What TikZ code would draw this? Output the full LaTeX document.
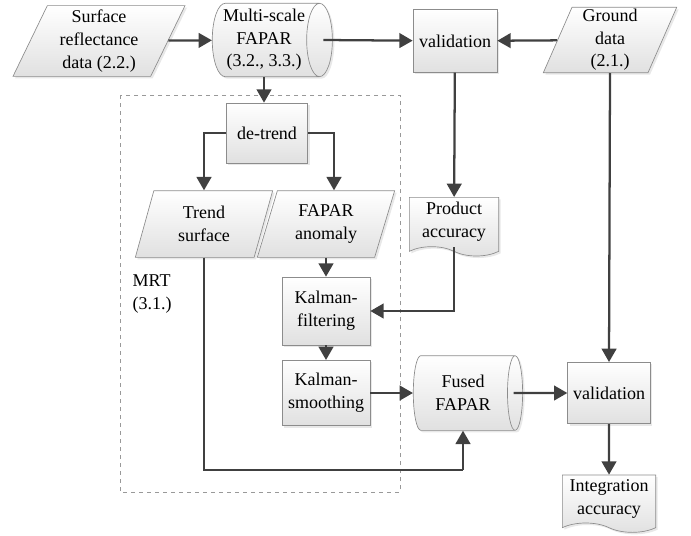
\documentclass[tikz,border=0pt]{standalone}
\usepackage{fontspec}
\setmainfont{Liberation Serif}
\usetikzlibrary{arrows.meta,shapes.geometric,shapes.symbols,shadows}

\tikzset{
  base/.style={draw=black!45, line width=0.5pt, top color=white, bottom color=black!12,
    align=center, inner sep=1pt, font=\rmfamily\fontsize{13.5}{17}\selectfont,
    drop shadow={opacity=0.18, shadow xshift=1.5pt, shadow yshift=-1.5pt}},
  procbox/.style={base, rectangle, minimum width=#1, minimum height=47pt},
  databox/.style={base, trapezium, trapezium stretches body,
    trapezium left angle=#1, trapezium right angle=180-#1},
  storebox/.style={base, cylinder, shape aspect=0.4, minimum height=88pt},
  docbox/.style={base, tape, tape bend top=none, tape bend bottom=out and in,
    tape bend height=7pt},
  flow/.style={draw=black!75, line width=1.7pt, -{Triangle[length=10pt,width=11pt]}},
  link/.style={draw=black!75, line width=1.7pt},
}

\begin{document}
\begin{tikzpicture}[x=0.75pt, y=-0.75pt]
  \useasboundingbox (0,0) rectangle (691,535);

  % MRT frame
  \draw[black!40, dashed, line width=0.6pt] (120,95) rectangle (400,492);
  \node[anchor=west, align=left, font=\rmfamily\fontsize{13.5}{17}\selectfont] (mrt) at (128,294)
    {MRT\\(3.1.)};

  % inputs
  \node[databox=62, minimum width=129pt, minimum height=53pt] (surf) at (99,41)
    {Surface\\reflectance\\data (2.2.)};
  \node[storebox, minimum width=55pt] (msf) at (264,40) {Multi-scale\\FAPAR\\(3.2., 3.3.)};
  \node[procbox=63pt] (val1) at (455,41) {validation};
  \node[databox=66, minimum width=100pt, minimum height=49pt] (gnd) at (610,40)
    {Ground\\data\\(2.1.)};

  % decomposition
  \node[procbox=61pt, minimum height=45pt] (detr) at (267,133) {de-trend};
  \node[databox=64, minimum width=103pt, minimum height=50pt] (trend) at (204,224)
    {Trend\\surface};
  \node[databox=64, minimum width=103pt, minimum height=50pt] (anom) at (326,224)
    {FAPAR\\anomaly};
  \node[docbox, minimum width=67pt, minimum height=44pt] (pacc) at (454,222)
    {Product\\accuracy};
  \node[procbox=66pt, minimum height=51pt] (kf) at (326,311) {Kalman-\\filtering};
  \node[procbox=66pt, minimum height=49pt] (ks) at (326,393) {Kalman-\\smoothing};

  % fusion
  \node[storebox, minimum width=56pt, minimum height=82pt] (fused) at (463,393) {Fused\\FAPAR};
  \node[procbox=62pt, minimum height=46pt] (val2) at (609,393) {validation};
  \node[docbox, minimum width=70pt, minimum height=43pt] (iacc) at (609,499)
    {Integration\\accuracy};

  \coordinate (tbend) at (fused.south |- 0,470);

  \draw[flow] (surf) -- (msf);
  \draw[flow] ([xshift=-7pt]msf.east) -- (val1);
  \draw[flow] (gnd) -- (val1);
  \draw[flow] (msf.south) -- (msf.south |- detr.north);
  \draw[flow] (detr.west) -| (trend.center |- trend.north);
  \draw[flow] (detr.east) -| ([xshift=6pt]anom.center |- anom.north);
  \draw[flow] (anom.center |- anom.south) -- (kf.north);
  \draw[flow] (val1) -- (pacc);
  \draw[flow] (pacc.south) |- (kf.east);
  \draw[flow] (kf) -- (ks);
  \draw[flow] (ks) -- (fused);
  \draw[link] (trend.center |- trend.south) |- (tbend);
  \draw[flow] (tbend) -- (fused.south);
  \draw[flow] ([xshift=-7pt]fused.east) -- (val2);
  \draw[flow] (gnd.center |- gnd.south) -- (val2.north);
  \draw[flow] (val2) -- (iacc);
\end{tikzpicture}
\end{document}
